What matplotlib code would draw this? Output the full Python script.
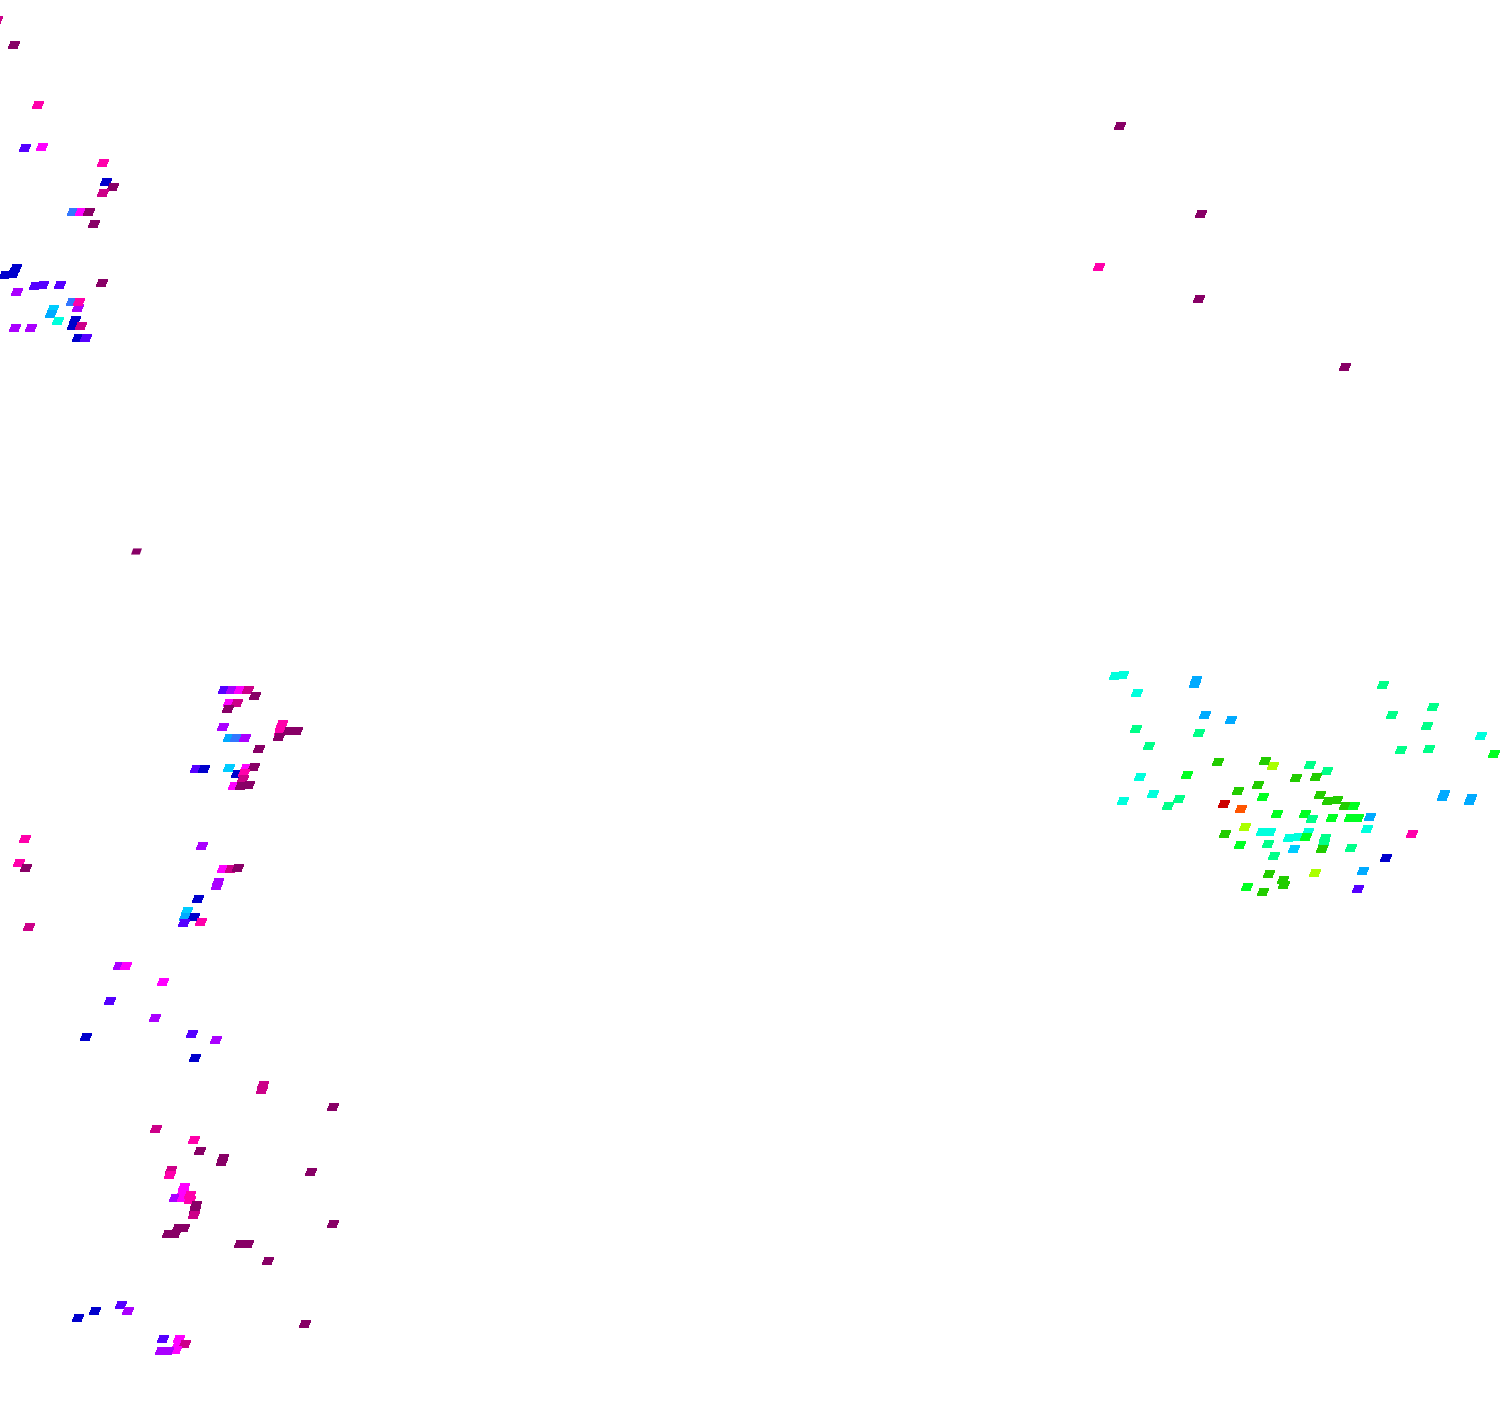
import matplotlib
matplotlib.use("Agg")
import matplotlib.pyplot as plt
from matplotlib.path import Path

# colour classes, low to high
palette = ["#cc0000", "#ff5500", "#aaff00", "#22cc00", "#00ff22", "#00ff88",
           "#00ffdd", "#00ccff", "#00aaff", "#3377ff", "#0000cc", "#5500ff",
           "#aa00ff", "#ff00ff", "#ff00aa", "#cc0088", "#880066"]

# (x, y, colour class)
top_left = [(-3, 20, 15), (14, 45, 16), (38, 105, 14), (25, 148, 11), (42, 147, 13),
            (103, 163, 14), (106, 182, 10), (113, 187, 16), (103, 193, 15),
            (73, 212, 9), (81, 212, 13), (89, 212, 16), (94, 224, 16),
            (16, 268, 10), (14, 272, 10), (13, 274, 10), (5, 275, 10),
            (35, 286, 11), (43, 285, 11), (60, 285, 11), (102, 283, 16), (17, 292, 12),
            (72, 302, 9), (78, 308, 12), (79, 302, 14), (53, 309, 7), (51, 314, 8),
            (58, 321, 6), (75, 320, 10), (73, 326, 10), (81, 326, 15),
            (15, 328, 12), (31, 328, 12), (78, 338, 10), (86, 338, 11)]
top_right = [(1120, 126, 16), (1201, 214, 16), (1099, 267, 14), (1199, 299, 16), (1345, 367, 16)]
middle = [(136, 551, 16)]
left_mid = [(224, 690, 11), (232, 690, 12), (240, 690, 13), (248, 690, 15), (255, 696, 16),
            (229, 703, 13), (237, 703, 15), (228, 709, 16), (223, 727, 12),
            (229, 738, 8), (236, 738, 9), (245, 738, 12), (259, 749, 16),
            (282, 724, 14), (281, 727, 14), (280, 732, 14), (279, 737, 16),
            (289, 731, 16), (297, 731, 16), (196, 769, 11), (204, 769, 10),
            (229, 768, 7), (237, 774, 10), (246, 768, 13), (254, 767, 16), (244, 773, 14),
            (243, 779, 15), (234, 786, 13), (241, 786, 16), (249, 785, 16)]
left_low = [(25, 839, 14), (19, 863, 14), (26, 868, 16), (29, 927, 15), (202, 846, 12),
            (223, 869, 13), (231, 869, 15), (238, 868, 16), (218, 882, 12), (217, 886, 12),
            (198, 899, 10), (187, 911, 7), (185, 917, 8), (194, 917, 10), (184, 923, 11),
            (201, 922, 14), (119, 966, 12), (126, 966, 13), (163, 982, 13), (110, 1001, 11),
            (155, 1018, 12), (86, 1037, 10), (192, 1034, 11), (216, 1040, 12), (195, 1058, 10)]
bottom_left = [(263, 1085, 15), (262, 1090, 15), (333, 1107, 16), (156, 1129, 15), (194, 1140, 14),
               (200, 1151, 16), (223, 1158, 16), (222, 1162, 16), (311, 1172, 16),
               (171, 1170, 15), (170, 1175, 14), (184, 1187, 13), (183, 1192, 13),
               (175, 1198, 12), (183, 1198, 13), (190, 1195, 14), (190, 1200, 14),
               (196, 1205, 16), (195, 1210, 16), (194, 1215, 15), (178, 1228, 16), (184, 1228, 16),
               (175, 1234, 16), (168, 1234, 16), (240, 1244, 16), (248, 1244, 16),
               (333, 1224, 16), (268, 1261, 16), (121, 1305, 11), (128, 1311, 12),
               (95, 1311, 10), (78, 1318, 10), (305, 1324, 16), (163, 1339, 11),
               (179, 1339, 13), (178, 1345, 13), (185, 1344, 15), (176, 1350, 13),
               (168, 1351, 12), (161, 1351, 12)]
right_outer = [(1115, 676, 6), (1123, 675, 6), (1137, 693, 6), (1196, 680, 8), (1195, 684, 8),
               (1383, 685, 5), (1433, 707, 5), (1392, 715, 5), (1205, 715, 8), (1231, 720, 8),
               (1427, 726, 5), (1136, 729, 5), (1199, 733, 5), (1481, 736, 6), (1494, 754, 4),
               (1149, 746, 5), (1401, 750, 5), (1429, 749, 5), (1187, 775, 4), (1140, 777, 6),
               (1153, 794, 6), (1123, 801, 6), (1179, 799, 5), (1168, 806, 5),
               (1444, 794, 8), (1443, 797, 8), (1471, 798, 8), (1470, 801, 8),
               (1412, 834, 14), (1386, 858, 10)]
right_core = [(1218, 762, 3), (1265, 761, 3), (1273, 766, 2), (1310, 765, 5), (1327, 771, 5),
              (1296, 778, 3), (1316, 777, 3), (1238, 791, 3), (1258, 785, 3),
              (1224, 804, 0), (1241, 809, 1), (1263, 797, 4), (1320, 795, 3), (1328, 801, 3),
              (1337, 800, 3), (1345, 806, 3), (1354, 806, 4), (1277, 814, 4), (1305, 814, 4),
              (1312, 819, 5), (1332, 818, 4), (1350, 818, 4), (1358, 818, 4), (1370, 817, 8),
              (1367, 829, 6), (1245, 827, 2), (1225, 834, 3), (1240, 845, 4), (1268, 844, 5),
              (1262, 832, 6), (1270, 832, 6), (1289, 838, 6), (1298, 837, 6), (1308, 832, 6),
              (1306, 837, 4), (1325, 838, 5), (1324, 843, 5), (1323, 847, 5), (1322, 849, 3),
              (1294, 849, 7), (1351, 848, 5), (1274, 856, 5), (1269, 874, 3), (1283, 880, 3),
              (1284, 885, 3), (1315, 873, 2), (1363, 871, 8), (1247, 887, 4), (1263, 892, 3),
              (1358, 889, 11)]

clusters = [top_left, top_right, middle, left_mid, left_low, bottom_left, right_outer, right_core]

# skewed little box, same as the tiles in the picture
tile = Path([(-5, -2.8), (3, -2.8), (5, 2.8), (-3, 2.8), (-5, -2.8)], closed=True)

fig = plt.figure(figsize=(15, 14.08), dpi=100)
ax = fig.add_axes([0, 0, 1, 1])
for cluster in clusters:
    xs = [p[0] for p in cluster]
    ys = [p[1] for p in cluster]
    cols = [palette[p[2]] for p in cluster]
    ax.scatter(xs, ys, c=cols, marker=tile, s=62, linewidths=0, antialiaseds=False)
ax.set_xlim(0, 1500)
ax.set_ylim(1408, 0)
ax.axis("off")
fig.savefig("out.png", dpi=100, facecolor="white")
